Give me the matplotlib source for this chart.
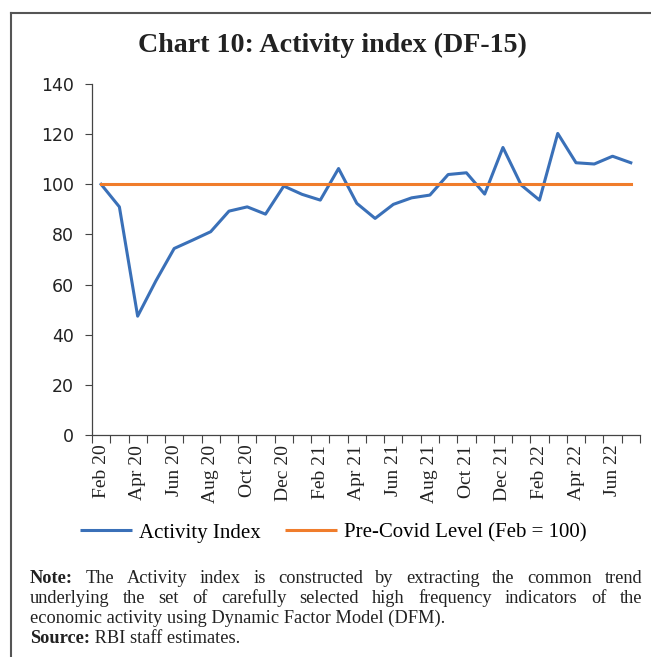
import numpy as np
import matplotlib
matplotlib.use("Agg")
import matplotlib.pyplot as plt
from matplotlib.lines import Line2D

# monthly values, Feb 20 .. Jul 22
months = ["Feb 20", "Mar 20", "Apr 20", "May 20", "Jun 20", "Jul 20", "Aug 20", "Sep 20",
          "Oct 20", "Nov 20", "Dec 20", "Jan 21", "Feb 21", "Mar 21", "Apr 21", "May 21",
          "Jun 21", "Jul 21", "Aug 21", "Sep 21", "Oct 21", "Nov 21", "Dec 21", "Jan 22",
          "Feb 22", "Mar 22", "Apr 22", "May 22", "Jun 22", "Jul 22"]
activity = [100.0, 91.0, 47.4, 61.5, 74.4, 77.7, 81.1, 89.3, 91.0, 88.1, 99.3, 96.0,
            93.7, 106.3, 92.4, 86.4, 92.0, 94.6, 95.7, 103.9, 104.6, 96.1, 114.7, 99.7,
            93.7, 120.3, 108.6, 108.1, 111.2, 108.6]
pre_covid = [100.0] * len(months)

blue = "#3a70b8"
orange = "#f07d2c"
serif = "Liberation Serif"
txt = "#222222"

fig = plt.figure(figsize=(6.51, 6.57), dpi=100)
ax = fig.add_axes([0.1413, 0.3379, 0.8417, 0.5342])

x = np.arange(len(months))
ax.plot(x, activity, color=blue, lw=2.2)
ax.plot(x, pre_covid, color=orange, lw=2.2)

ax.set_xlim(-0.5, len(months) - 0.5)
ax.set_ylim(0, 140)
ax.set_yticks(range(0, 141, 20))
ax.tick_params(axis="y", direction="out", length=5, width=0.8, labelsize=12.5, pad=8,
               color="#444444", labelcolor=txt)

ax.set_xticks(x[::2])
ax.set_xticklabels(months[::2], rotation=90, family=serif, fontsize=14, color=txt)
ax.set_xticks(np.arange(-0.5, len(months)), minor=True)
ax.tick_params(axis="x", which="major", length=0, pad=7)
ax.tick_params(axis="x", which="minor", direction="out", length=6, width=0.8, color="#444444")

for s in ["top", "right"]:
    ax.spines[s].set_visible(False)
for s in ["left", "bottom"]:
    ax.spines[s].set_color("#444444")
    ax.spines[s].set_linewidth(0.9)

fig.text(0.51, 0.9315, "Chart 10: Activity index (DF-15)", ha="center", va="center",
         family=serif, fontweight="bold", fontsize=20.2, color=txt)

handles = [Line2D([], [], color=blue, lw=2.2, solid_capstyle="butt"),
           Line2D([], [], color=orange, lw=2.2, solid_capstyle="butt")]
fig.legend(handles, ["Activity Index", "Pre-Covid Level (Feb = 100)"], loc="center",
           bbox_to_anchor=(0.512, 0.189), ncol=2, frameon=False, handlelength=2.5,
           columnspacing=1.2, handletextpad=0.3, prop={"family": serif, "size": 15})

# notes, first two lines justified
fs = 13.2
x_left, x_right = 30 / 651, 642 / 651
renderer = fig.canvas.get_renderer()


def word_width(s, bold):
    t = fig.text(0, 0, s, family=serif, fontsize=fs, fontweight="bold" if bold else "normal")
    w = t.get_window_extent(renderer).width / fig.bbox.width
    t.remove()
    return w


note_lines = [
    ([("Note:", True)] + [(w, False) for w in
      "The Activity index is constructed by extracting the common trend".split()], True),
    ([(w, False) for w in
      "underlying the set of carefully selected high frequency indicators of the".split()], True),
    ([("economic activity using Dynamic Factor Model (DFM).", False)], False),
    ([("Source:", True), (" RBI staff estimates.", False)], False),
]
# baselines
ys = [1 - 583 / 657, 1 - 603 / 657, 1 - 623 / 657, 1 - 643 / 657]
for (words, justify), yy in zip(note_lines, ys):
    widths = [word_width(w, b) for w, b in words]
    if justify:
        gap = (x_right - x_left - sum(widths)) / (len(words) - 1)
    else:
        gap = 0.0
    xx = x_left
    for (w, b), wd in zip(words, widths):
        fig.text(xx, yy, w, ha="left", va="baseline", family=serif, fontsize=fs,
                 fontweight="bold" if b else "normal", color=txt)
        xx += wd + gap

# outer frame (top and left)
fig.add_artist(Line2D([0.0169, 1.0], [0.9807, 0.9807], color="#555555", lw=1.5))
fig.add_artist(Line2D([0.0169, 0.0169], [0.0, 0.9807], color="#555555", lw=1.5))

fig.savefig("out.png", dpi=100)
